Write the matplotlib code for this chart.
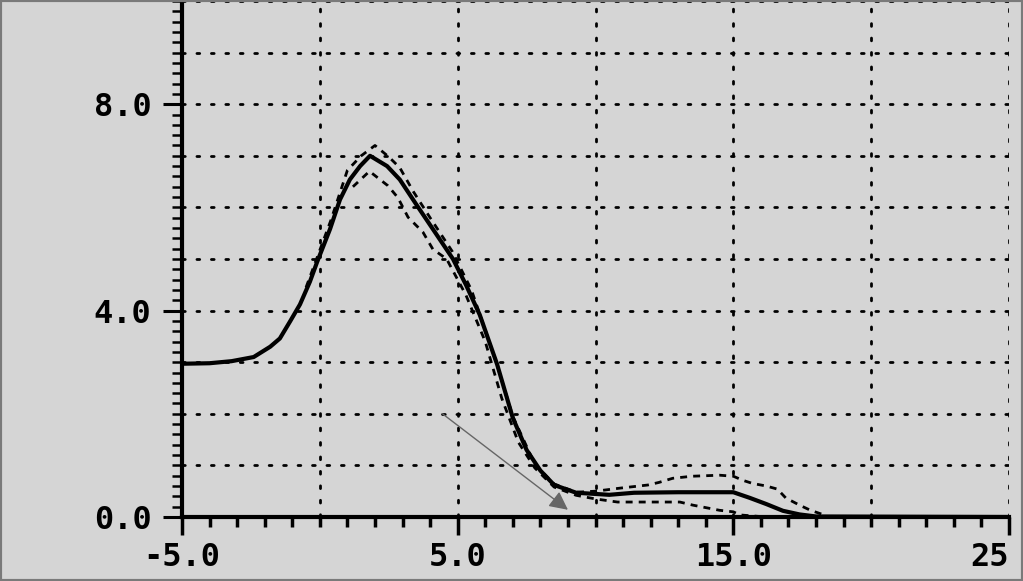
import numpy as np
import matplotlib
matplotlib.use("Agg")
import matplotlib.pyplot as plt
from matplotlib.patches import Rectangle

# main trace
x_main = [-5, -4, -3.2, -2.4, -1.8, -1.45, -1.08, -0.72, -0.36, -0.1, 0.37, 0.73, 1.09, 1.46, 1.82,
          2.44, 2.9, 3.52, 4.1, 4.83, 5.3, 5.8, 6.43, 7.0, 7.5, 8.0, 8.5, 9.3, 10.5, 11.4, 13.0,
          15.0, 15.6, 16.2, 16.8, 17.4, 18.0, 25]
y_main = [2.97, 2.98, 3.02, 3.1, 3.3, 3.46, 3.79, 4.12, 4.56, 4.94, 5.58, 6.15, 6.54, 6.8, 7.0,
          6.8, 6.54, 6.04, 5.58, 5.0, 4.5, 3.92, 2.96, 1.92, 1.3, 0.9, 0.62, 0.47, 0.43, 0.47, 0.48,
          0.48, 0.37, 0.25, 0.12, 0.05, 0.01, 0.0]

# dashed upper / lower bounds
x_upper = [-0.5, 0.4, 1.0, 1.5, 2.0, 2.5, 2.9, 3.4, 4.0, 4.8, 5.5, 6.4, 7.0, 7.8, 8.5, 9.3, 10.0,
           10.9, 11.9, 12.3, 12.8, 13.5, 14.5, 15.0, 15.35, 15.7, 16.2, 16.6, 16.9, 17.4, 17.8, 18.4]
y_upper = [4.45, 5.75, 6.72, 7.0, 7.2, 6.98, 6.77, 6.3, 5.8, 5.15, 4.4, 3.0, 1.95, 1.02, 0.64, 0.48, 0.5,
           0.56, 0.62, 0.67, 0.75, 0.79, 0.81, 0.79, 0.71, 0.65, 0.6, 0.54, 0.37, 0.23, 0.13, 0.02]
x_lower = [1.2, 1.8, 2.47, 2.83, 3.2, 3.74, 4.1, 4.6, 5.3, 6.0, 6.6, 7.2, 7.8, 8.5, 9.3, 10.0,
           10.8, 12.2, 13.06, 13.53, 14.5, 15.0, 15.24, 16.2]
y_lower = [6.4, 6.7, 6.42, 6.19, 5.81, 5.52, 5.19, 5.0, 4.3, 3.4, 2.3, 1.45, 0.95, 0.58, 0.42, 0.35,
           0.29, 0.29, 0.29, 0.23, 0.13, 0.1, 0.04, 0.0]

arrow_start = (4.45, 2.0)
arrow_end = (9.0, 0.14)

x_ticks = [-5, 5, 15, 25]
x_labels = ["-5.0", "5.0", "15.0", "25"]
y_ticks = [0, 4, 8]
y_labels = ["0.0", "4.0", "8.0"]

bg = "#d5d5d5"
fig = plt.figure(figsize=(10.23, 5.81), dpi=100, facecolor=bg)
ax = fig.add_axes([182 / 1023, 64 / 581, 827 / 1023, 516 / 581])
ax.set_facecolor(bg)
ax.set_xlim(-5, 25)
ax.set_ylim(0, 10)

# dotted grid
dots = dict(color="black", lw=2.0, linestyle=(0, (1, 4.2)), dash_capstyle="round", zorder=1)
for gx in [0, 5, 10, 15, 20, 25]:
    ax.axvline(gx, **dots)
for gy in range(1, 11):
    ax.axhline(gy, **dots)

ax.plot(x_upper, y_upper, color="black", lw=2.0, linestyle=(0, (2.5, 2.2)), zorder=2)
ax.plot(x_lower, y_lower, color="black", lw=2.0, linestyle=(0, (2.5, 2.2)), zorder=2)
ax.plot(x_main, y_main, color="black", lw=3.0, solid_joinstyle="round", zorder=3)

ax.annotate("", xy=arrow_end, xytext=arrow_start,
            arrowprops=dict(arrowstyle="-|>", color="#666666", lw=1.0, mutation_scale=28, shrinkA=0, shrinkB=0),
            zorder=4)

for s in ["top", "right"]:
    ax.spines[s].set_visible(False)
for s in ["left", "bottom"]:
    ax.spines[s].set_linewidth(3)
    ax.spines[s].set_color("black")

ax.set_xticks(x_ticks)
ax.set_xticklabels(x_labels)
ax.set_xticks(np.arange(-5, 26, 1), minor=True)
ax.set_yticks(y_ticks)
ax.set_yticklabels(y_labels)
ax.set_yticks(np.arange(0, 10.01, 0.2), minor=True)

ax.tick_params(axis="x", which="major", direction="out", length=13, width=2.5, pad=5)
ax.tick_params(axis="x", which="minor", direction="out", length=7, width=2.5)
ax.tick_params(axis="y", which="major", direction="out", length=14, width=2.2, pad=8)
ax.tick_params(axis="y", which="minor", direction="out", length=7, width=1.8)

for lab in ax.get_xticklabels() + ax.get_yticklabels():
    lab.set_fontfamily("DejaVu Sans Mono")
    lab.set_fontweight("bold")
    lab.set_fontsize(23)
ax.get_xticklabels()[-1].set_horizontalalignment("right")

# outer frame of the picture
fig.patches.append(Rectangle((0, 0), 1, 1, transform=fig.transFigure, fill=False,
                             edgecolor="#7a7a7a", lw=3, zorder=10))

fig.savefig("out.png", dpi=100, facecolor=bg)
